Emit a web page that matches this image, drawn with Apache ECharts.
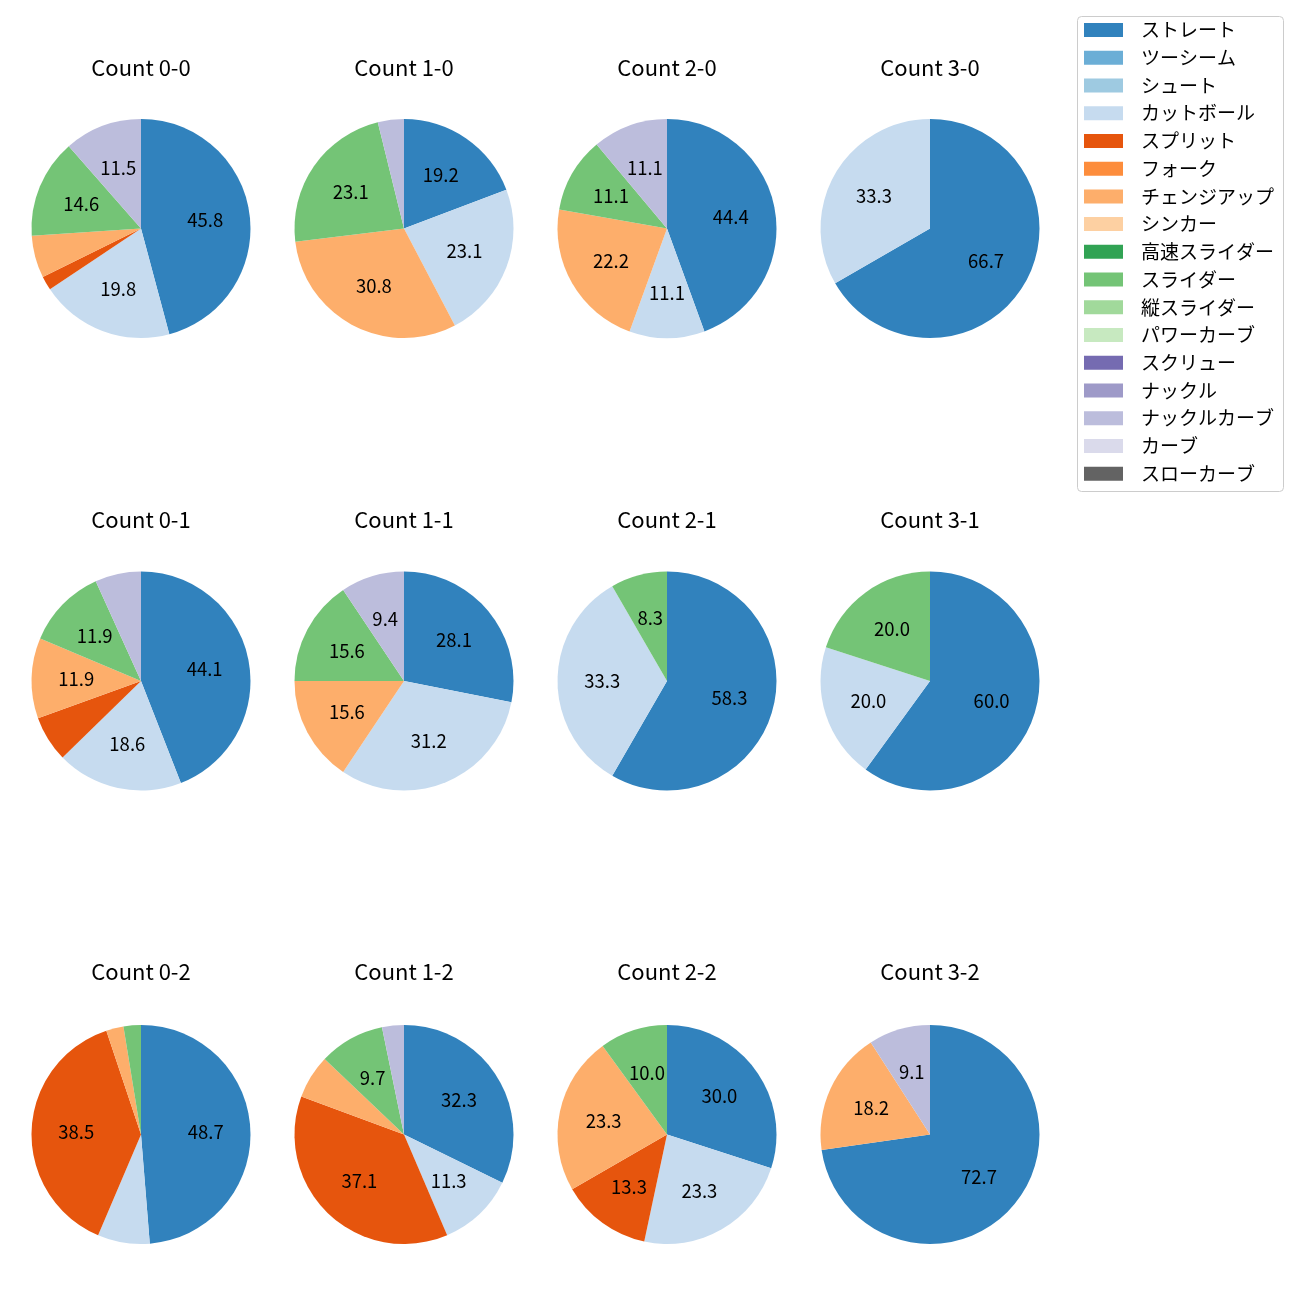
<!DOCTYPE html>
<html><head><meta charset="utf-8">
<script src="https://cdn.jsdelivr.net/npm/echarts@6/dist/echarts.min.js"></script>
<style>html,body{margin:0;padding:0;background:#fff}#c{width:1300px;height:1300px}</style>
</head><body><div id="c"></div>
<script>
const pitchTypes = ['ストレート','ツーシーム','シュート','カットボール','スプリット','フォーク','チェンジアップ','シンカー','高速スライダー','スライダー','縦スライダー','パワーカーブ','スクリュー','ナックル','ナックルカーブ','カーブ','スローカーブ'];
const pitchColors = ['#3182bd','#6baed6','#9ecae1','#c6dbef','#e6550d','#fd8d3c','#fdae6b','#fdd0a2','#31a354','#74c476','#a1d99b','#c7e9c0','#756bb1','#9e9ac8','#bcbddc','#dadaeb','#636363'];
const countTitles = ['Count 0-0','Count 1-0','Count 2-0','Count 3-0','Count 0-1','Count 1-1','Count 2-1','Count 3-1','Count 0-2','Count 1-2','Count 2-2','Count 3-2'];
// pitch counts per situation, in pitchTypes order
const count00 = [44,0,0,19,2,0,6,0,0,14,0,0,0,0,11,0,0];
const count10 = [5,0,0,6,0,0,8,0,0,6,0,0,0,0,1,0,0];
const count20 = [4,0,0,1,0,0,2,0,0,1,0,0,0,0,1,0,0];
const count30 = [2,0,0,1,0,0,0,0,0,0,0,0,0,0,0,0,0];
const count01 = [26,0,0,11,4,0,7,0,0,7,0,0,0,0,4,0,0];
const count11 = [9,0,0,10,0,0,5,0,0,5,0,0,0,0,3,0,0];
const count21 = [7,0,0,4,0,0,0,0,0,1,0,0,0,0,0,0,0];
const count31 = [3,0,0,1,0,0,0,0,0,1,0,0,0,0,0,0,0];
const count02 = [19,0,0,3,15,0,1,0,0,1,0,0,0,0,0,0,0];
const count12 = [20,0,0,7,23,0,4,0,0,6,0,0,0,0,2,0,0];
const count22 = [9,0,0,7,4,0,7,0,0,3,0,0,0,0,0,0,0];
const count32 = [8,0,0,0,0,0,2,0,0,0,0,0,0,0,1,0,0];
const allCounts = [count00,count10,count20,count30,count01,count11,count21,count31,count02,count12,count22,count32];

const colX = [141, 404, 667, 930];
const rowY = [228.5, 681, 1134.5];
const titleY = [57, 509, 961];
const R = 109.5;
const FONT = "'Noto Sans CJK JP','Noto Sans',sans-serif";

function fmtPct(pct) {
  // one decimal, round half to even (like Python's '%1.1f')
  const s = pct * 10;
  const fl = Math.floor(s);
  let n;
  if (Math.abs(s - fl - 0.5) < 1e-9) n = (fl % 2 === 0) ? fl : fl + 1;
  else n = Math.round(s);
  return (n / 10).toFixed(1);
}

const series = [];
const overlays = [];
const titles = [];
allCounts.forEach((arr, i) => {
  const cx = colX[i % 4], cy = rowY[Math.floor(i / 4)];
  const total = arr.reduce((a, b) => a + b, 0);
  const data = arr.map((v, k) => ({name: pitchTypes[k], value: v, itemStyle: {color: pitchColors[k]}}));
  series.push({
    type: 'pie', center: [cx, cy], radius: [0, R], startAngle: 90, clockwise: true,
    data: data, label: {show: false}, labelLine: {show: false},
    emphasis: {disabled: true}, silent: true, animation: false, avoidLabelOverlap: false
  });
  overlays.push({
    type: 'pie', center: [cx, cy], radius: [14, R], startAngle: 90, clockwise: true,
    data: arr.map((v, k) => ({name: pitchTypes[k], value: v})),
    itemStyle: {color: 'rgba(0,0,0,0)'},
    label: {show: true, position: 'inside', fontSize: 18.5, color: '#000', fontFamily: FONT,
      formatter: p => { const pct = p.value / total * 100; return pct >= 8 ? fmtPct(pct) : ''; }},
    labelLine: {show: false},
    emphasis: {disabled: true}, silent: true, animation: false, avoidLabelOverlap: false
  });
  titles.push({text: countTitles[i], left: cx, top: titleY[Math.floor(i / 4)], textAlign: 'center', padding: 0,
    textStyle: {fontSize: 22, fontWeight: 'normal', color: '#000', fontFamily: FONT}});
});

const chart = echarts.init(document.getElementById('c'), null, {renderer: 'canvas'});
chart.setOption({
  animation: false,
  backgroundColor: '#fff',
  title: titles,
  graphic: [{type: 'rect', z: 0, shape: {x: 1077.5, y: 16.5, width: 206, height: 475, r: 4},
    style: {fill: 'rgba(255,255,255,0.8)', stroke: '#cccccc', lineWidth: 1}}],
  legend: {
    data: pitchTypes, orient: 'vertical', left: 1084, top: 20.5, padding: 0, z: 5,
    icon: 'rect', itemWidth: 39, itemHeight: 14, itemGap: 8.73,
    selectedMode: false,
    textStyle: {fontSize: 19, lineHeight: 19, color: '#000', fontFamily: FONT, padding: [0, 0, 0, 13]}
  },
  series: series.concat(overlays)
});
</script>
</body></html>
